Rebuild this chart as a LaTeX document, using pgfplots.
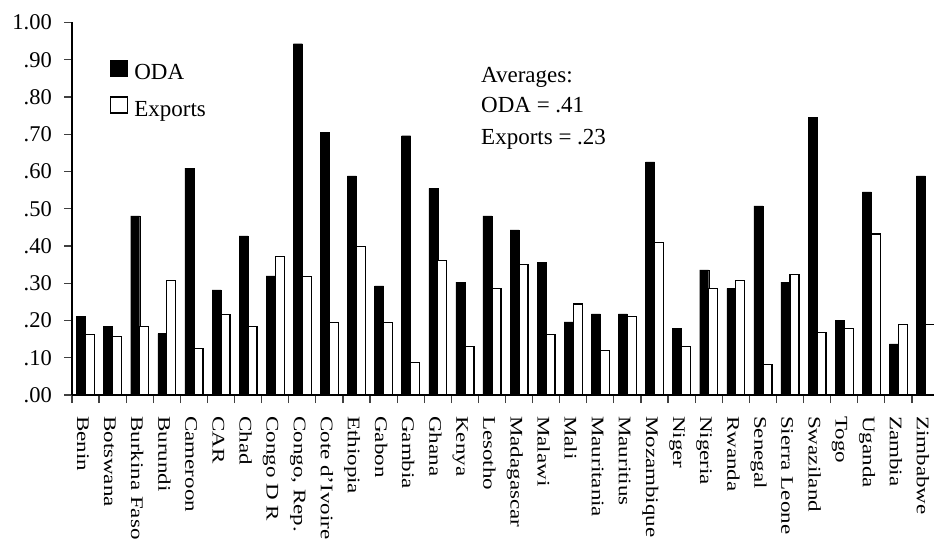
\documentclass[border=0pt]{standalone}
\usepackage{fontspec}
\setmainfont{Liberation Serif}
\usepackage{graphicx}
\usepackage{pgfplots}
\usepackage{pgfplotstable}
\pgfplotsset{compat=1.18}
\newcommand\sx[1]{\scalebox{1}[0.77]{#1}}
\pgfplotstableread{
x oda exports
0 0.212 0.163
1 0.185 0.157
2 0.481 0.184
3 0.165 0.307
4 0.609 0.124
5 0.282 0.217
6 0.427 0.184
7 0.320 0.372
8 0.943 0.318
9 0.705 0.194
10 0.588 0.398
11 0.293 0.194
12 0.696 0.088
13 0.555 0.362
14 0.303 0.130
15 0.481 0.286
16 0.443 0.351
17 0.356 0.163
18 0.196 0.244
19 0.218 0.119
20 0.218 0.210
21 0.626 0.409
22 0.179 0.130
23 0.336 0.286
24 0.286 0.307
25 0.508 0.081
26 0.303 0.324
27 0.745 0.167
28 0.201 0.178
29 0.545 0.432
30 0.137 0.190
31 0.588 0.190
}\datatable
\begin{document}
\begin{tikzpicture}
\begin{axis}[
  at={(72pt,143pt)}, anchor=south west,
  scale only axis, width=867pt, height=372.5pt,
  xmin=-0.5, xmax=31.5, ymin=0, ymax=1,
  axis lines*=left,
  axis line style={line width=1.2pt, black},
  ybar=0pt, bar width=9pt,
  tick align=outside,
  major tick length=8pt,
  minor tick length=8pt,
  tick style={line width=1.2pt, black!75},
  xtick={0,...,31},
  major x tick style={draw=none},
  minor xtick={-0.5,0.5,...,31.5},
  xticklabels={\sx{Benin},\sx{Botswana},\sx{Burkina Faso},\sx{Burundi},\sx{Cameroon},\sx{CAR},\sx{Chad},\sx{Congo D R},\sx{Congo, Rep.},\sx{Cote d'Ivoire},\sx{Ethiopia},\sx{Gabon},\sx{Gambia},\sx{Ghana},\sx{Kenya},\sx{Lesotho},\sx{Madagascar},\sx{Malawi},\sx{Mali},\sx{Mauritania},\sx{Mauritius},\sx{Mozambique},\sx{Niger},\sx{Nigeria},\sx{Rwanda},\sx{Senegal},\sx{Sierra Leone},\sx{Swaziland},\sx{Togo},\sx{Uganda},\sx{Zambia},\sx{Zimbabwe}},
  xticklabel style={font=\fontsize{23}{26}\selectfont, xshift=-8.5pt, yshift=-13pt, rotate=-90, anchor=base west, inner sep=0pt},
  ytick={0,0.1,...,1.0},
  yticklabels={.00,.10,.20,.30,.40,.50,.60,.70,.80,.90,1.00},
  yticklabel style={font=\fontsize{22.5}{26}\selectfont, anchor=east, inner sep=0pt, xshift=-12pt},
  legend style={draw=none, fill=none, at={(axis description cs:0.0438,0.9)}, anchor=north west,
    inner sep=0pt, font=\fontsize{23}{28}\selectfont, row sep=13pt,
    /tikz/every odd column/.style={column sep=4pt}},
  legend cell align=left,
  legend image code/.code={\draw[#1,line width=1.2pt] (0pt,-3.5pt) rectangle (17pt,12.5pt);},
  clip=false,
]
\addplot[fill=black, draw=black] table[x=x, y=oda] {\datatable};
\addplot[fill=white, draw=black, line width=1.3pt] table[x=x, y=exports] {\datatable};
\legend{ODA, Exports}
\end{axis}
\node[anchor=base west, font=\fontsize{23}{28}\selectfont, inner sep=0pt] at (481pt,455pt) {Averages:};
\node[anchor=base west, font=\fontsize{23}{28}\selectfont, inner sep=0pt] at (481pt,425pt) {ODA = .41};
\node[anchor=base west, font=\fontsize{23}{28}\selectfont, inner sep=0pt] at (481pt,393pt) {Exports = .23};
\pgfresetboundingbox
\path[use as bounding box] (0pt,0pt) rectangle (934pt,538pt);
\end{tikzpicture}
\end{document}
